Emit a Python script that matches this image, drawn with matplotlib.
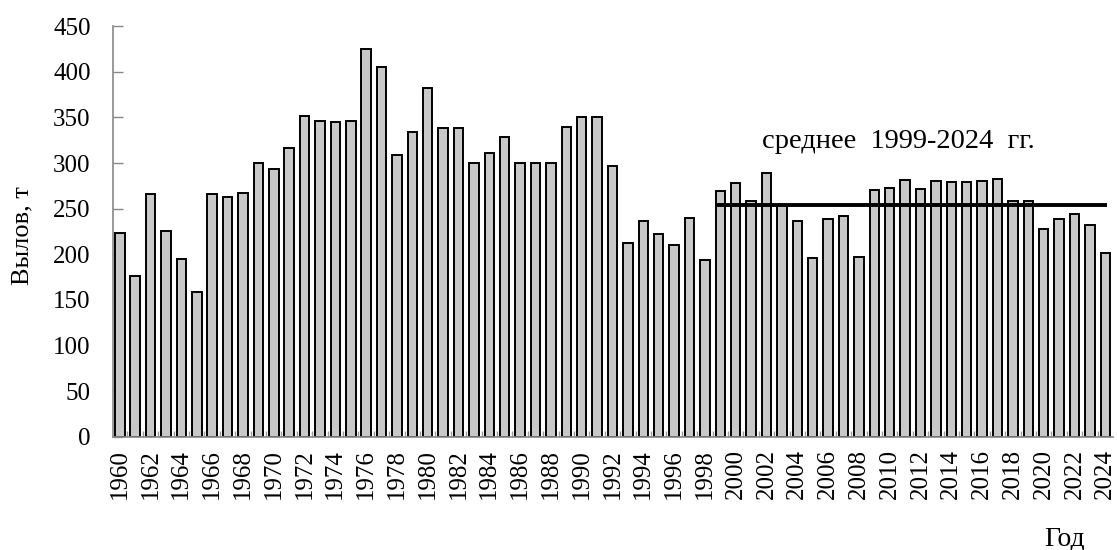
import matplotlib
matplotlib.use("Agg")
import matplotlib.pyplot as plt
import numpy as np
from matplotlib.ticker import MultipleLocator

years = list(range(1960, 2025))
catch = [223, 176, 266, 225, 195, 159, 266, 263, 267, 300, 293, 316, 352, 346, 345,
         346, 425, 405, 309, 334, 382, 338, 338, 300, 311, 328, 300, 300, 300, 339,
         350, 350, 297, 212, 237, 222, 210, 240, 194, 269, 278, 258, 289, 254, 236,
         196, 239, 242, 197, 270, 273, 281, 271, 280, 279, 279, 280, 282, 258, 258,
         228, 239, 244, 232, 201]
mean_start, mean_end = 1999, 2024
mean_label = "среднее  1999-2024  гг."
ylabel = "Вылов, т"
xlabel = "Год"

plt.rcParams['font.family'] = ['Liberation Serif', 'DejaVu Serif']

fig = plt.figure(figsize=(11.17, 5.5), dpi=100)
ax = fig.add_axes([0.101, 0.2055, 0.8954, 0.7472])

ax.bar(years, catch, width=0.62, color='#c8c8c8', edgecolor='black', linewidth=1.4, zorder=2)

yrs = np.array(years)
vals = np.array(catch, dtype=float)
mask = (yrs >= mean_start) & (yrs <= mean_end)
mean_val = vals[mask].mean()
ax.hlines(mean_val, mean_start - 0.33, mean_end + 0.1, color='black', linewidth=2.8, zorder=3)
ax.text(2001.7, 323, mean_label, fontsize=20.5, ha='left', va='center')

ax.set_xlim(1959.55, 2024.5)
ax.set_ylim(0, 450)
ax.yaxis.set_major_locator(MultipleLocator(50))
ax.set_xticks(years[::2])
ax.set_xticklabels([str(y) for y in years[::2]], rotation=90, fontsize=18)
ax.set_xticks([y + 0.5 for y in years[:-1]], minor=True)
ax.tick_params(axis='x', which='major', direction='in', length=5, color='#888888', width=1, pad=9)
ax.tick_params(axis='x', which='minor', direction='in', length=4, color='#999999', width=1)
ax.tick_params(axis='y', direction='in', length=7, color='#888888', width=1, labelsize=18, pad=16)

for s in ['top', 'right']:
    ax.spines[s].set_visible(False)
for s in ['left', 'bottom']:
    ax.spines[s].set_color('#888888')
    ax.spines[s].set_linewidth(1.2)

ax.set_ylabel(ylabel, fontsize=19)
ax.yaxis.set_label_coords(-0.079, 0.49)
fig.text(1065 / 1117, 1 - 539 / 550, xlabel, fontsize=20, ha='center', va='center')

fig.savefig("out.png", dpi=100)
